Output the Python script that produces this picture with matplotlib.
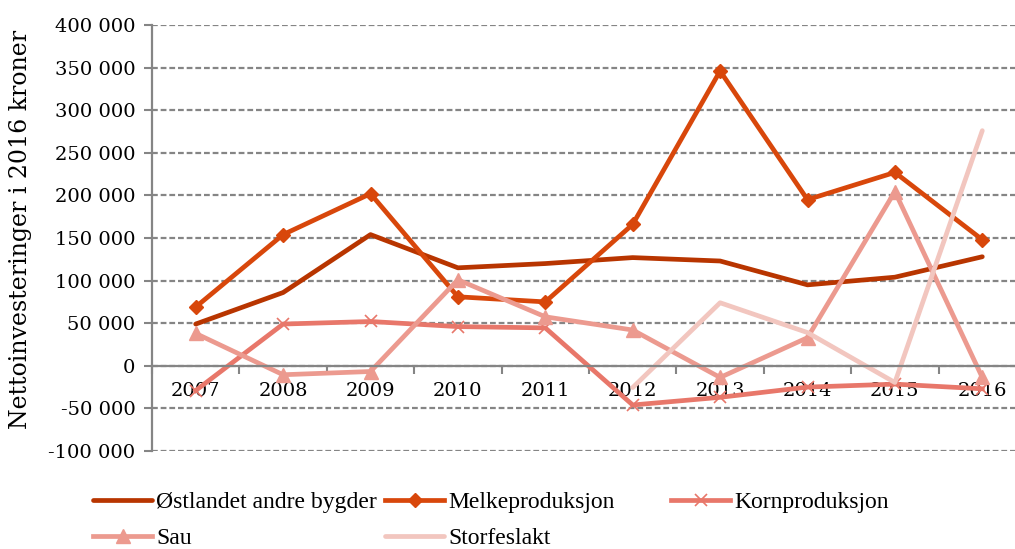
import numpy as np
import matplotlib
matplotlib.use('Agg')
import matplotlib.pyplot as plt
from matplotlib.ticker import FuncFormatter, MultipleLocator

# ===== DATA =====
years = ['2007', '2008', '2009', '2010', '2011', '2012', '2013', '2014', '2015', '2016']
ostlandet = [49000, 86000, 154000, 115000, 120000, 127000, 123000, 95000, 104000, 128000]
melk = [69000, 154000, 202000, 81000, 75000, 166000, 346000, 195000, 227000, 148000]
korn = [-29000, 49000, 52000, 46000, 44500, -46000, -37000, -25000, -21500, -27000]
sau = [38000, -10500, -6700, 101000, 57500, 42000, -13700, 33000, 204500, -13700]
storfe = [np.nan, np.nan, np.nan, np.nan, np.nan, -25500, 74000, 39000, -19600, 276000]

labels = ['Østlandet andre bygder', 'Melkeproduksjon', 'Kornproduksjon', 'Sau', 'Storfeslakt']
colors = ['#B83500', '#D8470B', '#E8776A', '#EC9A8F', '#F2C6BF']

GRAY = '#858585'

fig = plt.figure(figsize=(10.15, 5.49), dpi=100)
ax = fig.add_axes([152 / 1015, 98 / 549, 874 / 1015, 426 / 549])

x = np.arange(len(years))
lw = 3.4
h_ost, = ax.plot(x, ostlandet, color=colors[0], lw=lw, solid_capstyle='round')
h_melk, = ax.plot(x, melk, color=colors[1], lw=lw, marker='D', ms=7)
h_korn, = ax.plot(x, korn, color=colors[2], lw=lw, marker='x', ms=9, mew=1.2)
h_sau, = ax.plot(x, sau, color=colors[3], lw=lw, marker='^', ms=10)
h_stor, = ax.plot(x, storfe, color=colors[4], lw=lw, solid_capstyle='round')

ax.set_xlim(-0.5, 9.5)
ax.set_ylim(-100000, 400000)

# y axis
ax.yaxis.set_major_locator(MultipleLocator(50000))
ax.yaxis.set_major_formatter(FuncFormatter(lambda v, p: f"{int(v):,}".replace(',', ' ')))
ax.grid(axis='y', color=GRAY, lw=1.6, linestyle=(0, (2.6, 1.3)))
ax.set_axisbelow(True)
ax.tick_params(axis='y', length=6, width=1.5, color=GRAY, pad=6, labelsize=14)
for t in ax.get_yticklabels():
    t.set_fontfamily('DejaVu Serif')

# x axis at zero
ax.spines['bottom'].set_position(('data', 0))
for s in ['top', 'right']:
    ax.spines[s].set_visible(False)
for s in ['bottom', 'left']:
    ax.spines[s].set_color(GRAY)
    ax.spines[s].set_linewidth(1.6)
ax.set_xticks(x)
ax.set_xticklabels(years, fontfamily='DejaVu Serif', fontsize=14)
ax.set_xticks(np.arange(-0.5, 10, 1), minor=True)
ax.tick_params(axis='x', which='major', length=0, pad=12)
ax.tick_params(axis='x', which='minor', length=6, width=1.5, color=GRAY)

ax.set_ylabel('Nettoinvesteringer i 2016 kroner', fontfamily='DejaVu Serif', fontsize=17)
ax.yaxis.set_label_coords(-0.137, 0.52)

# legend in three columns like the original
leg_kw = dict(frameon=False, prop={'family': 'Liberation Serif', 'size': 17},
              handlelength=2.5, handletextpad=0.15, labelspacing=0.62, borderaxespad=0)
top = 1 - 482 / 549
col1 = fig.legend([h_ost, h_sau], [labels[0], labels[3]], loc='upper left',
                  bbox_to_anchor=(84 / 1015, top), **leg_kw)
col2 = fig.legend([h_melk, h_stor], [labels[1], labels[4]], loc='upper left',
                  bbox_to_anchor=(376 / 1015, top), **leg_kw)
col3 = fig.legend([h_korn], [labels[2]], loc='upper left',
                  bbox_to_anchor=(662 / 1015, top), **leg_kw)

plt.savefig('out.png', dpi=100)
